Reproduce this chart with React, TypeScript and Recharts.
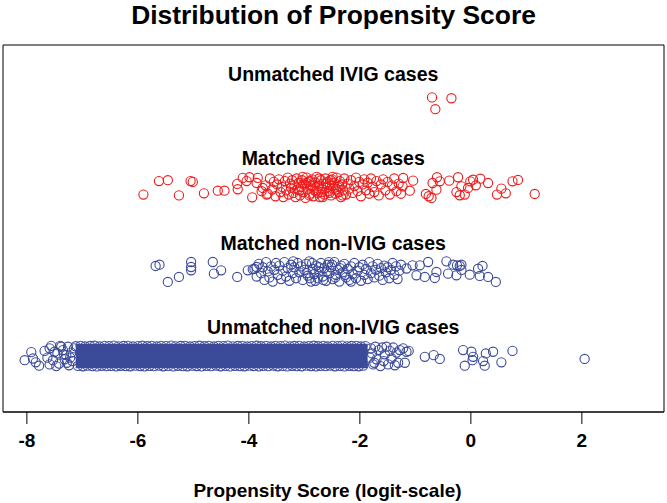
import React from 'react';
import { ScatterChart, Scatter, XAxis, YAxis, ReferenceArea } from 'recharts';

const FONT = '"Liberation Sans", Arial, Helvetica, sans-serif';
const RED = '#EE1A1A';
const BLUE = '#3C4A9A';

const xTicks = [-8, -6, -4, -2, 0, 2];
const xDomain = [-8.43, 3.48];
const yDomain = [0.337, 4.68];
const groupNames = ['Unmatched non-IVIG cases', 'Matched non-IVIG cases', 'Matched IVIG cases', 'Unmatched IVIG cases'];
const groupLevels = [1, 2, 3, 4];
const labelX = -2.48;
const labelOffset = 0.34;

// [propensity logit, jitter]
const unmatchedIvig = [[-0.70, 0.06], [-0.35, 0.05], [-0.64, -0.08]];

const matchedIvig = [
  [-5.90, -0.09], [-5.62, 0.07], [-5.46, 0.08], [-5.26, -0.10], [-5.05, 0.07], [-5.01, 0.06],
  [-4.81, -0.075], [-4.56, -0.044], [-4.44, -0.044], [-4.21, 0.036], [-4.20, -0.027], [-4.11, 0.107],
  [-4.04, 0.07], [-3.99, 0.115], [-3.86, 0.047], [-3.84, 0.107], [-3.94, -0.122], [-3.77, -0.05],
  [-3.75, -0.012], [-3.68, -0.09],
  [-3.70, 0.02], [-3.66, -0.08], [-3.62, 0.10], [-3.58, -0.03], [-3.55, 0.06], [-3.52, -0.11],
  [-3.49, 0.03], [-3.46, 0.09], [-3.43, -0.06], [-3.40, 0.00], [-3.38, -0.12], [-3.35, 0.07],
  [-3.33, -0.04], [-3.30, 0.11], [-3.28, -0.09], [-3.26, 0.04], [-3.24, -0.01], [-3.22, 0.08],
  [-3.20, -0.07], [-3.18, 0.02], [-3.16, -0.12], [-3.14, 0.10], [-3.12, -0.03], [-3.10, 0.05],
  [-3.08, -0.10], [-3.06, 0.00], [-3.04, 0.08], [-3.02, -0.06], [-3.00, 0.03], [-2.98, -0.13],
  [-2.96, 0.11], [-2.94, -0.02], [-2.92, 0.06], [-2.90, -0.08], [-2.88, 0.02], [-2.86, 0.09],
  [-2.84, -0.11], [-2.82, -0.04], [-2.80, 0.05], [-2.78, 0.12], [-2.76, -0.07], [-2.74, 0.01],
  [-2.72, -0.12], [-2.70, 0.08], [-2.68, -0.03], [-2.66, 0.04], [-2.64, -0.09], [-2.62, 0.10],
  [-2.60, -0.01], [-2.58, 0.06], [-2.56, -0.05], [-2.54, 0.02], [-2.52, -0.10], [-2.50, 0.09],
  [-2.48, -0.02], [-2.46, 0.05], [-2.44, -0.08], [-2.42, 0.11], [-2.40, 0.00], [-2.38, -0.06],
  [-2.36, 0.07], [-2.34, -0.12], [-2.32, 0.03], [-2.30, -0.04], [-2.28, 0.10], [-2.25, -0.09],
  [-2.22, 0.04], [-2.19, -0.02], [-2.16, 0.08], [-2.13, -0.07], [-2.10, 0.01], [-2.07, 0.11],
  [-2.04, -0.05], [-2.01, 0.06], [-1.98, -0.11], [-1.95, 0.03], [-1.92, 0.09], [-1.89, -0.04],
  [-1.86, 0.05], [-1.83, -0.08], [-1.80, 0.10], [-1.77, 0.00], [-1.74, -0.06], [-1.70, 0.07],
  [-1.66, -0.10], [-1.62, 0.03], [-1.58, 0.09], [-1.54, -0.04], [-1.50, 0.06], [-1.46, -0.09],
  [-1.42, 0.02], [-1.38, 0.10], [-1.34, -0.05], [-1.30, 0.04], [-1.26, -0.08],
  [-2.97, 0.05], [-2.91, -0.10], [-2.85, 0.01], [-2.79, -0.05], [-2.73, 0.10], [-2.67, -0.12],
  [-2.61, 0.04], [-2.55, -0.07], [-2.49, 0.12], [-2.43, -0.03], [-2.37, 0.01], [-2.31, -0.10],
  [-3.03, 0.12], [-3.09, -0.04], [-2.89, 0.07], [-2.69, -0.06], [-2.53, 0.08],
  [-1.22, 0.106], [-1.23, 0.008], [-1.04, 0.075], [-1.10, -0.044], [-0.81, -0.083], [-0.76, -0.11],
  [-0.71, -0.13], [-0.69, 0.047], [-0.61, 0.115], [-0.56, 0.067], [-0.62, -0.032], [-0.39, 0.075],
  [-0.23, 0.115], [-0.26, -0.06], [-0.17, 0.008], [-0.20, -0.098], [-0.11, -0.09], [-0.05, -0.012],
  [-0.01, 0.067], [0.04, 0.086], [0.09, 0.02], [0.17, 0.098], [0.31, 0.047], [0.47, -0.09],
  [0.55, -0.02], [0.63, -0.075], [0.75, 0.067], [0.85, 0.083], [1.15, -0.083],
];

const matchedNonIvig = [
  [-5.68, 0.065], [-5.61, 0.08], [-5.46, -0.124], [-5.26, -0.065], [-5.04, 0.112], [-5.04, 0.053],
  [-5.04, 0.014], [-4.65, 0.112], [-4.63, -0.026], [-4.50, 0.014], [-4.21, -0.065], [-4.02, 0.014],
  [-3.93, 0.026], [-3.86, 0.053],
  [-3.90, 0.03], [-3.86, -0.06], [-3.82, 0.09], [-3.78, -0.02], [-3.75, 0.05], [-3.72, -0.10],
  [-3.69, 0.11], [-3.66, 0.00], [-3.63, -0.07], [-3.60, 0.06], [-3.57, -0.12], [-3.54, 0.02],
  [-3.51, 0.10], [-3.48, -0.04], [-3.45, 0.07], [-3.42, -0.09], [-3.39, 0.01], [-3.36, 0.11],
  [-3.33, -0.06], [-3.30, 0.04], [-3.27, -0.11], [-3.24, 0.08], [-3.21, -0.02], [-3.18, 0.05],
  [-3.15, -0.08], [-3.12, 0.10], [-3.09, -0.01], [-3.06, 0.06], [-3.03, -0.10], [-3.00, 0.02],
  [-2.97, 0.09], [-2.94, -0.05], [-2.91, 0.12], [-2.88, -0.12], [-2.85, 0.03], [-2.82, -0.03],
  [-2.79, 0.07], [-2.76, -0.08], [-2.73, 0.00], [-2.70, 0.10], [-2.67, -0.06], [-2.64, 0.04],
  [-2.61, -0.11], [-2.58, 0.08], [-2.55, -0.02], [-2.52, 0.05], [-2.49, -0.09], [-2.46, 0.11],
  [-2.43, -0.04], [-2.40, 0.02], [-2.37, -0.12], [-2.34, 0.07], [-2.31, -0.01], [-2.28, 0.09],
  [-2.25, -0.07], [-2.22, 0.03], [-2.19, -0.10], [-2.16, 0.06], [-2.13, -0.03], [-2.10, 0.10],
  [-2.07, -0.08], [-2.04, 0.01], [-2.01, 0.05], [-1.98, -0.11], [-1.95, 0.08], [-1.92, -0.04],
  [-1.89, 0.03], [-1.86, -0.09], [-1.83, 0.11], [-1.80, -0.02], [-1.77, 0.06], [-1.74, -0.07],
  [-1.71, 0.02], [-1.68, 0.09], [-1.65, -0.05], [-1.62, 0.04], [-1.59, -0.10], [-1.56, 0.07],
  [-1.53, -0.01], [-1.50, 0.05], [-1.47, -0.08], [-1.44, 0.02], [-1.41, 0.10], [-1.38, -0.04],
  [-1.35, 0.06], [-1.32, -0.09], [-1.29, 0.01], [-1.26, 0.08],
  [-2.96, -0.02], [-2.86, 0.10], [-2.74, 0.05], [-2.66, -0.10], [-2.56, 0.11], [-2.44, -0.07],
  [-2.36, 0.04], [-2.26, -0.04], [-2.90, -0.08], [-2.60, 0.00], [-2.50, 0.08], [-2.80, -0.11],
  [-3.20, 0.12], [-2.16, -0.12],
  [-1.16, 0.035], [-1.05, 0.073], [-0.92, 0.073], [-0.77, 0.112], [-0.98, -0.045], [-0.83, -0.065],
  [-0.65, -0.077], [-0.62, -0.006], [-0.44, 0.12], [-0.32, 0.08], [-0.25, 0.073], [-0.20, 0.065],
  [-0.17, 0.08], [-0.41, -0.026], [-0.26, -0.045], [-0.02, -0.038], [0.13, 0.033], [0.21, 0.065],
  [0.16, -0.053], [0.31, -0.065], [0.45, -0.124], [-0.17, 0.018],
];

// dense core of the unmatched non-IVIG band (overplotted thousands of rings)
const bandCoreX = [-7.12, -1.86];
const bandCoreJ = [-0.145, 0.145];

const unmatchedNonIvigTop = [
  [-7.12, 0.115], [-7.03, 0.12], [-6.95, 0.112], [-6.86, 0.118], [-6.78, 0.121], [-6.69, 0.113],
  [-6.60, 0.119], [-6.52, 0.116], [-6.43, 0.122], [-6.35, 0.114], [-6.26, 0.118], [-6.18, 0.12],
  [-6.09, 0.113], [-6.00, 0.117], [-5.92, 0.121], [-5.83, 0.115], [-5.75, 0.119], [-5.66, 0.112],
  [-5.58, 0.12], [-5.49, 0.116], [-5.40, 0.122], [-5.32, 0.114], [-5.23, 0.118], [-5.15, 0.12],
  [-5.06, 0.113], [-4.98, 0.117], [-4.89, 0.121], [-4.80, 0.115], [-4.72, 0.119], [-4.63, 0.112],
  [-4.55, 0.12], [-4.46, 0.116], [-4.38, 0.122], [-4.29, 0.114], [-4.20, 0.118], [-4.12, 0.12],
  [-4.03, 0.113], [-3.95, 0.117], [-3.86, 0.121], [-3.78, 0.115], [-3.69, 0.119], [-3.60, 0.112],
  [-3.52, 0.12], [-3.43, 0.116], [-3.35, 0.122], [-3.26, 0.114], [-3.18, 0.118], [-3.09, 0.12],
  [-3.00, 0.113], [-2.92, 0.117], [-2.83, 0.121], [-2.75, 0.115], [-2.66, 0.119], [-2.58, 0.112],
  [-2.49, 0.12], [-2.40, 0.116], [-2.32, 0.122], [-2.23, 0.114], [-2.15, 0.118], [-2.06, 0.12],
  [-1.98, 0.113], [-1.90, 0.117],
];

const unmatchedNonIvigBottom = [
  [-7.08, -0.118], [-6.99, -0.122], [-6.91, -0.115], [-6.82, -0.12], [-6.74, -0.124], [-6.65, -0.116],
  [-6.56, -0.121], [-6.48, -0.118], [-6.39, -0.123], [-6.31, -0.116], [-6.22, -0.12], [-6.14, -0.122],
  [-6.05, -0.115], [-5.96, -0.119], [-5.88, -0.123], [-5.79, -0.117], [-5.71, -0.121], [-5.62, -0.114],
  [-5.54, -0.122], [-5.45, -0.118], [-5.36, -0.124], [-5.28, -0.116], [-5.19, -0.12], [-5.11, -0.122],
  [-5.02, -0.115], [-4.94, -0.119], [-4.85, -0.123], [-4.76, -0.117], [-4.68, -0.121], [-4.59, -0.114],
  [-4.51, -0.122], [-4.42, -0.118], [-4.34, -0.124], [-4.25, -0.116], [-4.16, -0.12], [-4.08, -0.122],
  [-3.99, -0.115], [-3.91, -0.119], [-3.82, -0.123], [-3.74, -0.117], [-3.65, -0.121], [-3.56, -0.114],
  [-3.48, -0.122], [-3.39, -0.118], [-3.31, -0.124], [-3.22, -0.116], [-3.14, -0.12], [-3.05, -0.122],
  [-2.96, -0.115], [-2.88, -0.119], [-2.79, -0.123], [-2.71, -0.117], [-2.62, -0.121], [-2.54, -0.114],
  [-2.45, -0.122], [-2.36, -0.118], [-2.28, -0.124], [-2.19, -0.116], [-2.11, -0.12], [-2.02, -0.122],
  [-1.94, -0.115],
];

const unmatchedNonIvigEnds = [
  [-8.04, -0.05], [-7.92, 0.045], [-7.89, -0.03], [-7.78, -0.115], [-7.84, -0.075], [-7.68, 0.06],
  [-7.59, 0.09], [-7.38, 0.11], [-7.53, -0.05], [-7.59, -0.10], [-7.29, 0.01],
  [-7.45, 0.03], [-7.42, -0.09], [-7.35, 0.07], [-7.32, -0.04], [-7.26, 0.11], [-7.24, -0.11],
  [-7.20, 0.04], [-7.18, -0.06], [-7.15, 0.09], [-7.50, 0.05], [-7.47, -0.12], [-7.40, 0.12],
  [-7.63, -0.02], [-7.56, 0.12], [-7.22, -0.02], [-7.28, -0.08], [-7.33, 0.02],
  [-1.80, 0.09], [-1.76, -0.10], [-1.72, 0.11], [-1.70, -0.04], [-1.66, 0.07], [-1.63, -0.12],
  [-1.60, 0.10], [-1.57, -0.06], [-1.55, 0.02], [-1.52, 0.11], [-1.49, -0.10], [-1.46, 0.06],
  [-1.43, -0.03], [-1.40, 0.10], [-1.37, -0.11], [-1.34, 0.04], [-1.31, -0.08], [-1.28, 0.07],
  [-1.22, 0.09], [-1.19, -0.08], [-1.16, 0.05], [-1.82, -0.02], [-1.78, 0.03], [-1.74, -0.08],
  [-1.12, 0.06], [-0.83, -0.01], [-0.67, 0.01], [-0.56, -0.035], [-0.14, 0.07], [0.01, 0.05],
  [0.04, -0.01], [-0.11, -0.115], [0.03, -0.05], [0.27, 0.03], [0.40, 0.05], [0.22, -0.06],
  [0.25, -0.115], [0.55, -0.075], [0.75, 0.06], [2.05, -0.035],
];

const toPoints = (pairs: number[][], level: number) => pairs.map(([x, j]) => ({ x, y: level + j }));

const ring = (color: string) => (props: any) => (
  <circle cx={props.cx} cy={props.cy} r={4.6} fill="none" stroke={color} strokeWidth={1.1} />
);

const labelPoints = groupNames.map((name, i) => ({ x: labelX, y: groupLevels[i] + labelOffset, name }));

const labelShape = (props: any) => (
  <text
    x={props.cx}
    y={props.cy}
    textAnchor="middle"
    dominantBaseline="central"
    style={{ fontFamily: FONT, fontSize: 19.5, fontWeight: 700, fill: '#000' }}
  >
    {props.payload.name}
  </text>
);

export default function App() {
  return (
    <div style={{ position: 'absolute', left: 0, top: 0, width: 667, height: 503, background: '#fff', fontFamily: FONT }}>
      <div
        style={{
          position: 'absolute', left: 0, top: 0, width: 667, textAlign: 'center',
          fontSize: 26.4, lineHeight: '31px', fontWeight: 700, color: '#000', fontFamily: FONT,
        }}
      >
        Distribution of Propensity Score
      </div>
      <ScatterChart width={667} height={503} margin={{ top: 45, right: 3, bottom: 0, left: 3 }}>
        <XAxis
          type="number"
          dataKey="x"
          domain={xDomain}
          ticks={xTicks}
          interval={0}
          allowDataOverflow
          height={91}
          tickSize={12}
          tickMargin={10}
          stroke="#000"
          axisLine={{ stroke: '#000', strokeWidth: 1 }}
          tickLine={{ stroke: '#000', strokeWidth: 1 }}
          tick={{ fontSize: 19, fontWeight: 700, fill: '#000', fontFamily: FONT }}
          label={{
            value: 'Propensity Score (logit-scale)',
            position: 'insideBottom',
            offset: 6,
            dx: -6,
            style: { fontSize: 19, fontWeight: 700, fill: '#000', fontFamily: FONT },
          }}
        />
        <YAxis
          type="number"
          dataKey="y"
          domain={yDomain}
          allowDataOverflow
          width={0}
          tick={false}
          tickLine={false}
          axisLine={false}
        />
        <ReferenceArea
          x1={xDomain[0]}
          x2={xDomain[1]}
          y1={yDomain[0]}
          y2={yDomain[1]}
          fill="none"
          fillOpacity={0}
          stroke="#000"
          strokeWidth={1}
          ifOverflow="visible"
        />
        <ReferenceArea
          x1={bandCoreX[0]}
          x2={bandCoreX[1]}
          y1={groupLevels[0] + bandCoreJ[0]}
          y2={groupLevels[0] + bandCoreJ[1]}
          fill={BLUE}
          fillOpacity={1}
          stroke="none"
        />
        <Scatter data={toPoints(unmatchedNonIvigTop, 1)} shape={ring(BLUE)} isAnimationActive={false} />
        <Scatter data={toPoints(unmatchedNonIvigBottom, 1)} shape={ring(BLUE)} isAnimationActive={false} />
        <Scatter data={toPoints(unmatchedNonIvigEnds, 1)} shape={ring(BLUE)} isAnimationActive={false} />
        <Scatter data={toPoints(matchedNonIvig, 2)} shape={ring(BLUE)} isAnimationActive={false} />
        <Scatter data={toPoints(matchedIvig, 3)} shape={ring(RED)} isAnimationActive={false} />
        <Scatter data={toPoints(unmatchedIvig, 4)} shape={ring(RED)} isAnimationActive={false} />
        <Scatter data={labelPoints} shape={labelShape} isAnimationActive={false} />
      </ScatterChart>
    </div>
  );
}
